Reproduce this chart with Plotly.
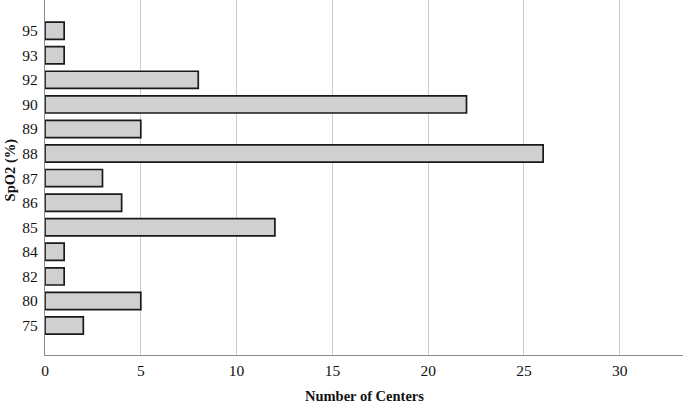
import plotly.graph_objects as go

categories = ["75", "80", "82", "84", "85", "86", "87", "88", "89", "90", "92", "93", "95"]
values = [2, 5, 1, 1, 12, 4, 3, 26, 5, 22, 8, 1, 1]
x_ticks = [0, 5, 10, 15, 20, 25, 30]

fig = go.Figure(go.Bar(
    y=categories, x=values, orientation="h",
    width=0.7,
    marker=dict(color="#d0d0d0", line=dict(color="#1a1a1a", width=1.7)),
))

font_family = "Liberation Serif, Times New Roman, serif"
fig.update_layout(
    width=685, height=403,
    margin=dict(l=45, r=2, t=0, b=48, autoexpand=False),
    plot_bgcolor="white", paper_bgcolor="white",
    font=dict(family=font_family, size=15.5, color="#111111"),
    showlegend=False,
    xaxis=dict(
        range=[0, 33.3], tickvals=x_ticks, ticktext=[str(t) for t in x_ticks],
        showgrid=True, gridcolor="#cccccc", gridwidth=1,
        showline=True, linecolor="#8a8a8a", linewidth=1.2,
        zeroline=False, ticks="", ticklabelstandoff=1, automargin=False,
    ),
    yaxis=dict(
        type="category", categoryorder="array", categoryarray=categories,
        range=[-1.2, 13.25],
        showgrid=False, showline=True, linecolor="#8a8a8a", linewidth=1.2,
        ticks="", ticklabelstandoff=3, automargin=False,
    ),
    annotations=[
        dict(text="<b>Number of Centers</b>", xref="paper", yref="paper",
             x=0.5, y=0, yshift=-41, xanchor="center", yanchor="middle",
             showarrow=False, font=dict(size=14.5)),
        dict(text="<b>SpO2 (%)</b>", xref="paper", yref="paper",
             x=0, y=0.52, xshift=-35, xanchor="center", yanchor="middle",
             textangle=-90, showarrow=False, font=dict(size=14.5)),
    ],
)

fig.write_html(
    "out.html",
    config={"displayModeBar": False},
    post_script="document.body.style.margin='0';document.body.style.overflow='hidden';",
)
